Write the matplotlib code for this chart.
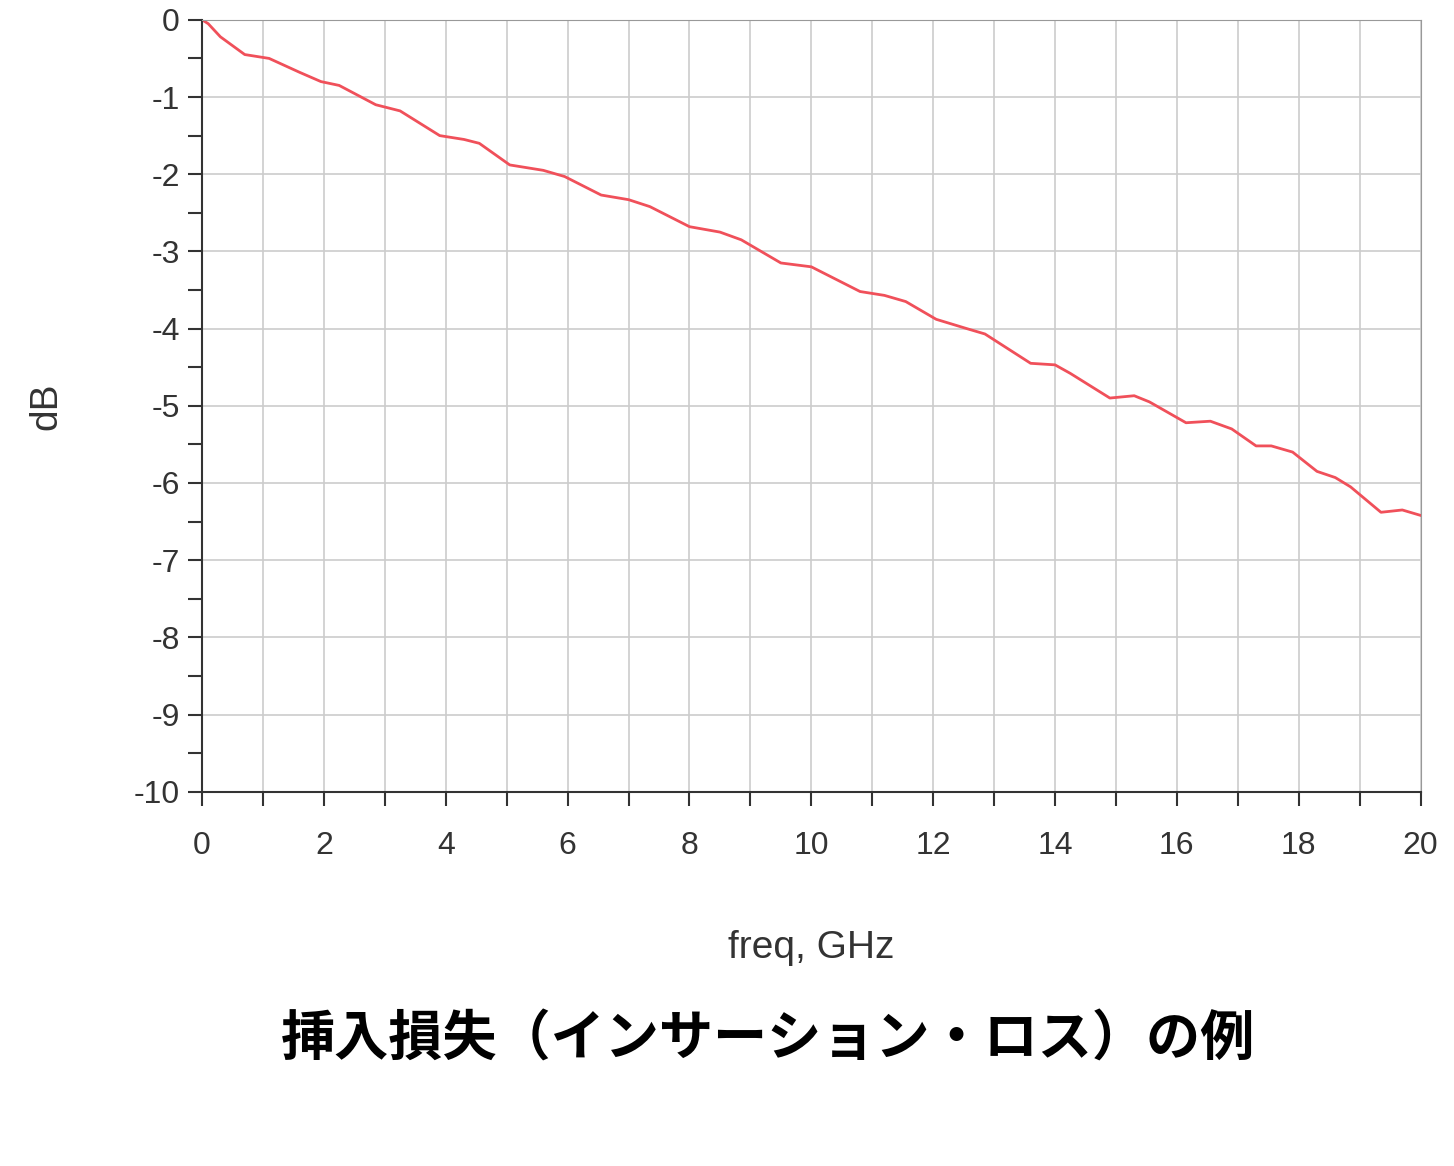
import matplotlib
matplotlib.use("Agg")
import matplotlib.pyplot as plt
import numpy as np

# 挿入損失の読み取り値
freq_ghz = [0, 0.1, 0.3, 0.7, 1.1, 1.6, 1.95, 2.25, 2.85, 3.25, 3.9, 4.3, 4.55, 5.05, 5.6, 5.95,
            6.55, 7.0, 7.35, 8.0, 8.5, 8.85, 9.5, 10.0, 10.2, 10.8, 11.2, 11.55, 12.05, 12.55,
            12.85, 13.6, 14.0, 14.25, 14.9, 15.3, 15.55, 16.15, 16.55, 16.9, 17.3, 17.55, 17.9,
            18.3, 18.6, 18.85, 19.35, 19.7, 20.0]
loss_db = [0, -0.05, -0.22, -0.45, -0.5, -0.68, -0.8, -0.85, -1.1, -1.18, -1.5, -1.55, -1.6,
           -1.88, -1.95, -2.03, -2.27, -2.33, -2.42, -2.68, -2.75, -2.85, -3.15, -3.2, -3.28,
           -3.52, -3.57, -3.65, -3.88, -4.0, -4.07, -4.45, -4.47, -4.58, -4.9, -4.87, -4.95,
           -5.22, -5.2, -5.3, -5.52, -5.52, -5.6, -5.85, -5.93, -6.05, -6.38, -6.35, -6.42]

plt.rcParams['font.family'] = ['Liberation Sans', 'Noto Sans CJK JP', 'DejaVu Sans']
plt.rcParams['axes.unicode_minus'] = False
txt = '#333333'

fig = plt.figure(figsize=(14.54, 11.66), dpi=100)
ax = fig.add_axes([0.139, 0.321, 0.838, 0.662])
ax.plot(freq_ghz, loss_db, color='#f0505a', lw=2)

ax.set_xlim(0, 20)
ax.set_ylim(-10, 0)
ax.set_xticks(range(0, 21, 2))
ax.set_xticks(range(0, 21), minor=True)
ax.set_yticks(range(-10, 1))
ax.set_yticks(np.arange(-10, 0.1, 0.5), minor=True)
ax.grid(True, which='major', color='#cccccc', lw=1.2)
ax.grid(True, which='minor', axis='x', color='#cccccc', lw=1.2)
for s in ax.spines.values():
    s.set_color('#999999')
ax.spines['left'].set_color('#333333')
ax.spines['bottom'].set_color('#333333')
ax.spines['left'].set_linewidth(1.5)
ax.spines['bottom'].set_linewidth(1.5)
ax.tick_params(which='both', direction='out', length=10, width=1.5, color='#333333',
               labelsize=23, labelcolor=txt)
ax.tick_params(axis='x', pad=18)
ax.tick_params(axis='y', pad=6)
ax.set_xlabel('freq, GHz', fontsize=28, color=txt, labelpad=50)
ax.set_ylabel('dB', fontsize=28, color=txt, labelpad=50)

fig.text(0.528, 0.108, '挿入損失（インサーション・ロス）の例', ha='center', va='center',
         fontsize=39, color='black', weight='bold', family=['Noto Sans CJK JP', 'DejaVu Sans'])

fig.savefig('out.png', dpi=100)
